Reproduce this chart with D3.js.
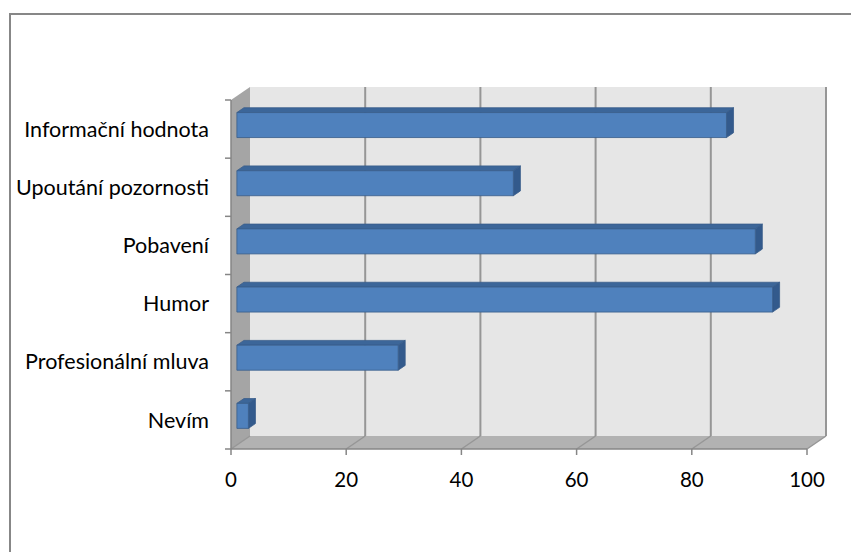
<!DOCTYPE html>
<html><head><meta charset="utf-8">
<script src="https://cdn.jsdelivr.net/npm/d3@7"></script>
<style>body{margin:0;background:#fff}svg{display:block}</style>
</head><body>
<svg id="c" width="851" height="552"></svg>
<script>
const categories = ["Informační hodnota","Upoutání pozornosti","Pobavení","Humor","Profesionální mluva","Nevím"];
const values = [85, 48, 90, 93, 28, 2];
const xTicks = [0, 20, 40, 60, 80, 100];

const svg = d3.select("#c");
const DX = 19, DY = -13;
const x = d3.scaleLinear().domain([0,100]).range([231,807]);
const y = d3.scaleBand().domain(categories).range([100,449]).padding(0);
const yTop = 100, yBot = 449;

// outer border
svg.append("rect").attr("x",10).attr("y",14).attr("width",900).attr("height",600)
  .attr("fill","#fff").attr("stroke","#878787").attr("stroke-width",2);

// back wall
svg.append("rect").attr("x",x(0)+DX).attr("y",yTop+DY).attr("width",x(100)-x(0)).attr("height",yBot-yTop)
  .attr("fill","#E6E6E6");
// left wall
svg.append("polygon").attr("points",[[x(0),yTop],[x(0)+DX,yTop+DY],[x(0)+DX,yBot+DY],[x(0),yBot]].join(" "))
  .attr("fill","#A5A5A5");
// floor
svg.append("polygon").attr("points",[[x(0),yBot],[x(0)+DX,yBot+DY],[x(100)+DX,yBot+DY],[x(100),yBot]].join(" "))
  .attr("fill","#B2B2B2");

const gridC = "#969696";
xTicks.forEach(t=>{
  if(t>0){
    svg.append("line").attr("x1",x(t)+DX).attr("x2",x(t)+DX).attr("y1",yTop+DY).attr("y2",yBot+DY)
      .attr("stroke",gridC).attr("stroke-width",2);
  }
  svg.append("line").attr("x1",x(t)).attr("y1",yBot).attr("x2",x(t)+DX).attr("y2",yBot+DY)
    .attr("stroke",gridC).attr("stroke-width",1.5);
});

// axes
svg.append("line").attr("x1",x(0)).attr("x2",x(0)).attr("y1",yTop).attr("y2",yBot).attr("stroke","#868686").attr("stroke-width",1.5);
svg.append("line").attr("x1",x(0)).attr("x2",x(100)).attr("y1",yBot).attr("y2",yBot).attr("stroke","#868686").attr("stroke-width",1.5);
const bounds = categories.map(c=>y(c)).concat([yBot]);
bounds.forEach(b=>{
  svg.append("line").attr("x1",x(0)-6).attr("x2",x(0)).attr("y1",b).attr("y2",b).attr("stroke","#868686").attr("stroke-width",1.5);
});
xTicks.forEach(t=>{
  svg.append("line").attr("x1",x(t)).attr("x2",x(t)).attr("y1",yBot).attr("y2",yBot+6).attr("stroke","#868686").attr("stroke-width",1.5);
});

// bars
const z0 = 0.31, z1 = 0.68;
const thick = 0.43;
categories.forEach((c,i)=>{
  const v = values[i];
  const bw = y.bandwidth();
  const t0 = y(c) + bw*(1-thick)/2, t1 = t0 + bw*thick;
  const fx0 = x(0)+DX*z0, fxv = x(v)+DX*z0, fdy = DY*z0;
  const bx0 = x(0)+DX*z1, bxv = x(v)+DX*z1, bdy = DY*z1;
  const g = svg.append("g").attr("stroke","#385D8A").attr("stroke-width",0.8).attr("stroke-linejoin","round");
  g.append("polygon").attr("points",[[fx0,t0+fdy],[fxv,t0+fdy],[bxv,t0+bdy],[bx0,t0+bdy]].join(" ")).attr("fill","#3C6699");
  g.append("polygon").attr("points",[[fxv,t0+fdy],[bxv,t0+bdy],[bxv,t1+bdy],[fxv,t1+fdy]].join(" ")).attr("fill","#335A8C");
  g.append("rect").attr("x",fx0).attr("y",t0+fdy).attr("width",fxv-fx0).attr("height",t1-t0).attr("fill","#4F81BD");
});

const font = "Lato, 'Open Sans', sans-serif";
categories.forEach(c=>{
  svg.append("text").attr("x",209).attr("y",y(c)+y.bandwidth()/2).attr("dy","0.36em")
    .attr("text-anchor","end").attr("font-family",font).attr("font-size",21.5).attr("fill","#000").text(c);
});
xTicks.forEach(t=>{
  svg.append("text").attr("x",x(t)).attr("y",487).attr("text-anchor","middle")
    .attr("font-family",font).attr("font-size",20.5).attr("fill","#000").text(t);
});
</script>
</body></html>
